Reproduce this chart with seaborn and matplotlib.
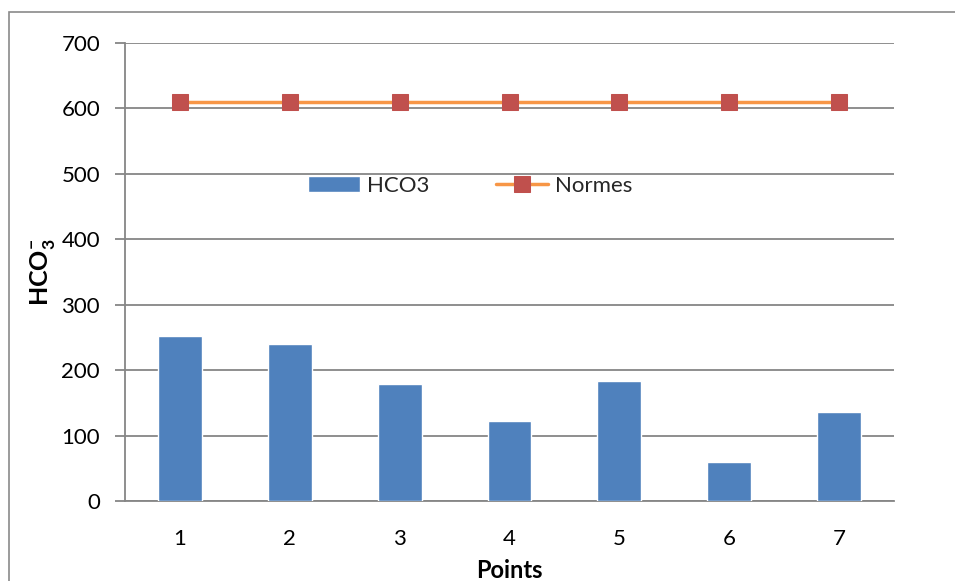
import numpy as np
import pandas as pd
import matplotlib
matplotlib.use("Agg")
import matplotlib.pyplot as plt
import seaborn as sns
from matplotlib.patches import Rectangle

# data
points = ["1", "2", "3", "4", "5", "6", "7"]
hco3 = [252, 240, 179, 122, 183, 60, 136]
normes = [610, 610, 610, 610, 610, 610, 610]
y_ticks = [0, 100, 200, 300, 400, 500, 600, 700]

sns.set_theme(style="white")
plt.rcParams["font.family"] = ["Lato", "DejaVu Sans"]
plt.rcParams["mathtext.fontset"] = "custom"
plt.rcParams["mathtext.rm"] = "Lato"
plt.rcParams["mathtext.bf"] = "Lato:bold"

grid_col = "#868686"
fs = 16
df = pd.DataFrame({"Points": points, "HCO3": hco3, "Normes": normes})

fig = plt.figure(figsize=(9.55, 5.81), dpi=100)
ax = fig.add_axes([125 / 955, 1 - 501 / 581, 769 / 955, 458 / 581])

sns.barplot(data=df, x="Points", y="HCO3", color="#4F81BD", saturation=1,
            width=0.4, ax=ax, label="HCO3", zorder=3)
sns.lineplot(x=np.arange(len(points)), y=df["Normes"], color="#F79646", lw=2.5,
             marker="s", markersize=11, markerfacecolor="#C0504D",
             markeredgecolor="#C0504D", ax=ax, label="Normes", zorder=4)

ax.set_ylim(0, 700)
ax.set_xlim(-0.5, len(points) - 0.5)
ax.set_yticks(y_ticks)
ax.set_yticklabels([str(v) for v in y_ticks])
ax.yaxis.grid(True, color=grid_col, lw=1.3)
ax.set_axisbelow(True)
for s in ["top", "right"]:
    ax.spines[s].set_visible(False)
for s in ["left", "bottom"]:
    ax.spines[s].set_color(grid_col)
    ax.spines[s].set_linewidth(1.3)
ax.tick_params(axis="y", which="both", left=True, length=7, width=1.3,
               color=grid_col, labelsize=fs, labelcolor="black", pad=11)
ax.tick_params(axis="x", bottom=False, labelsize=fs, labelcolor="black", pad=14)

ax.set_xlabel("Points", fontsize=17, fontweight="bold", color="black", labelpad=7)
ax.set_ylabel(r"$\mathbf{HCO}^{\mathbf{-}}_{\mathbf{3}}$", fontsize=18,
              color="black", labelpad=3)

# legend: bar first, then line
handles, labels = ax.get_legend_handles_labels()
order = [labels.index("HCO3"), labels.index("Normes")]
ax.legend([handles[i] for i in order], [labels[i] for i in order],
          loc="center", bbox_to_anchor=(0.449, 0.688), ncol=2,
          frameon=False, fontsize=fs, handlelength=2.35,
          handletextpad=0.3, columnspacing=3.0)

# outer chart border (partly cropped in the reference)
fig.patches.append(Rectangle((9 / 955, -0.1), 2, 1 - 12 / 581 + 0.1,
                             transform=fig.transFigure, fill=False,
                             edgecolor="#8a8a8a", lw=1.2))

fig.savefig("out.png", dpi=100)
